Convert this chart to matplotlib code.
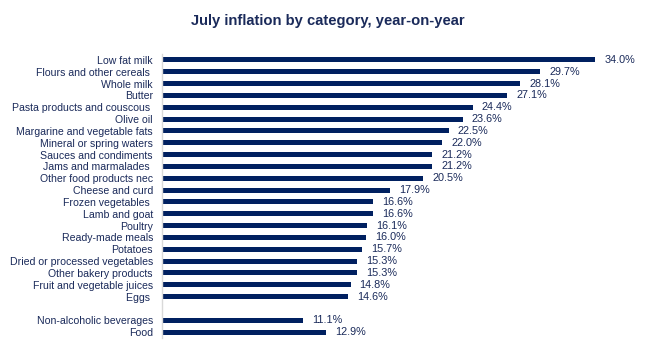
import matplotlib
matplotlib.use("Agg")
import matplotlib.pyplot as plt

categories = [
    "Low fat milk", "Flours and other cereals ", "Whole milk", "Butter",
    "Pasta products and couscous ", "Olive oil", "Margarine and vegetable fats",
    "Mineral or spring waters", "Sauces and condiments", "Jams and marmalades ",
    "Other food products nec", "Cheese and curd", "Frozen vegetables ",
    "Lamb and goat", "Poultry", "Ready-made meals", "Potatoes",
    "Dried or processed vegetables", "Other bakery products",
    "Fruit and vegetable juices", "Eggs ",
    "",
    "Non-alcoholic beverages", "Food",
]
values = [34.0, 29.7, 28.1, 27.1, 24.4, 23.6, 22.5, 22.0, 21.2, 21.2, 20.5,
          17.9, 16.6, 16.6, 16.1, 16.0, 15.7, 15.3, 15.3, 14.8, 14.6,
          None, 11.1, 12.9]
title = "July inflation by category, year-on-year"

bar_color = "#002060"
text_color = "#1a2a5a"

plt.rcParams['font.family'] = ['Liberation Sans', 'DejaVu Sans']

W, H = 667, 355
fig = plt.figure(figsize=(W / 100, H / 100), dpi=100)
ax = fig.add_axes([162 / W, 17 / H, (650 - 162) / W, 284 / H])

ys = list(range(len(categories)))
for y, v in zip(ys, values):
    if v is None:
        continue
    ax.barh(y, v, height=0.42, color=bar_color, left=0)
    ax.annotate(f"{v:.1f}%", xy=(v, y), xytext=(6.5, 0), textcoords="offset points",
                va="center", ha="left", fontsize=7.8, color=text_color)

ax.set_ylim(len(categories) - 0.5, -0.5)
ax.set_xlim(0, (650 - 162) / 12.74)
ax.set_yticks(ys)
ax.set_yticklabels(categories, fontsize=7.6, color=text_color)
ax.tick_params(axis="y", length=0, pad=6.5)
ax.set_xticks([])
for s in ["top", "right", "bottom"]:
    ax.spines[s].set_visible(False)
ax.spines["left"].set_color("#d9d9d9")
ax.spines["left"].set_linewidth(1.0)

fig.text(328 / W, 1 - 21 / H, title, ha="center", va="center",
         fontsize=10.6, fontweight="bold", color=text_color)

fig.savefig("out.png", dpi=100)
